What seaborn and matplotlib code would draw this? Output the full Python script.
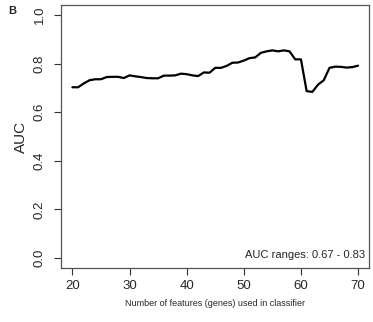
import numpy as np
import pandas as pd
import matplotlib
matplotlib.use("Agg")
import matplotlib.pyplot as plt
import seaborn as sns

# features used in classifier and AUC
n_features = list(range(20, 71))
auc = [0.703, 0.703, 0.719, 0.732, 0.736, 0.736, 0.745, 0.746, 0.746, 0.741,
       0.752, 0.748, 0.745, 0.741, 0.740, 0.740, 0.751, 0.751, 0.752, 0.759,
       0.757, 0.752, 0.749, 0.764, 0.763, 0.783, 0.783, 0.791, 0.804, 0.805,
       0.813, 0.823, 0.826, 0.845, 0.851, 0.855, 0.851, 0.855, 0.851, 0.818,
       0.818, 0.687, 0.684, 0.714, 0.732, 0.783, 0.788, 0.787, 0.784, 0.786,
       0.792]
xticks = [20, 30, 40, 50, 60, 70]
yticks = [0.0, 0.2, 0.4, 0.6, 0.8, 1.0]

df = pd.DataFrame({"features": n_features, "AUC": auc})

sns.set_style("white")
plt.rcParams['font.family'] = ['Liberation Sans', 'DejaVu Sans']

fig = plt.figure(figsize=(3.73, 3.22), dpi=100)
ax = fig.add_axes([0.1635, 0.169, 0.8271, 0.814])
sns.lineplot(data=df, x="features", y="AUC", color="black", linewidth=1.6, ax=ax)

ax.set_xlim(18, 72)
ax.set_ylim(-0.04, 1.04)
ax.set_xticks(xticks)
ax.set_yticks(yticks)
ax.set_xticklabels([str(t) for t in xticks], fontsize=9.5)
ax.set_yticklabels(["%.1f" % t for t in yticks], fontsize=9.5, rotation=90, va="center")
ax.tick_params(axis="both", direction="out", length=5, width=0.8, color="#333333",
               bottom=True, left=True)
ax.tick_params(axis="x", pad=4)
ax.tick_params(axis="y", pad=6)
for s in ax.spines.values():
    s.set_color("#555555")
    s.set_linewidth(0.9)

ax.set_xlabel("Number of features (genes) used in classifier", fontsize=6.5, labelpad=5)
ax.set_ylabel("AUC", fontsize=11, labelpad=4)
ax.text(0.985, 0.03, "AUC ranges: 0.67 - 0.83", transform=ax.transAxes,
        ha="right", va="bottom", fontsize=8)
fig.text(0.022, 0.955, "B", fontsize=8, fontweight="bold")

plt.savefig("out.png", dpi=100)
